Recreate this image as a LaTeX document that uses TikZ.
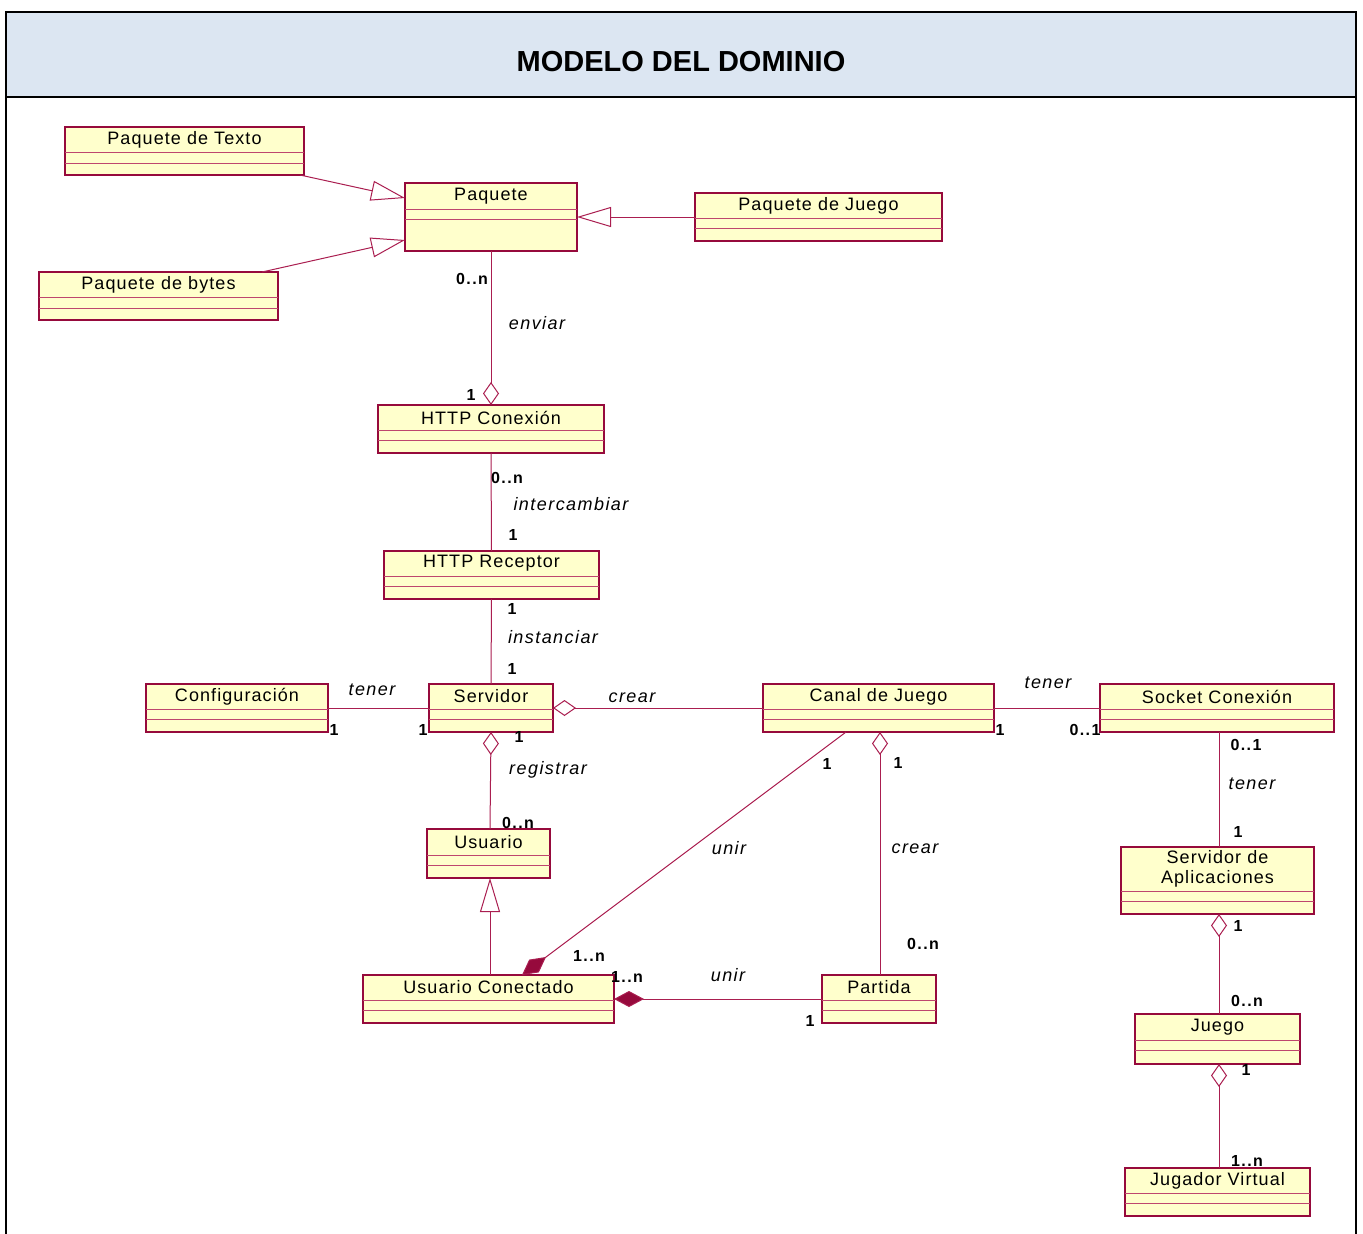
\documentclass[tikz,border=0pt]{standalone}
\usepackage{fontspec}
\setmainfont{Liberation Sans}
\newfontfamily\clsfont[LetterSpace=6]{Liberation Sans}
\newfontfamily\multfont[LetterSpace=9]{Liberation Sans}
\newfontfamily\rolefont[LetterSpace=8]{Liberation Sans}
\usetikzlibrary{arrows.meta}
\definecolor{umlred}{RGB}{150,10,60}
\definecolor{linered}{RGB}{170,30,80}
\definecolor{umlfill}{RGB}{255,255,204}
\definecolor{sepred}{RGB}{190,70,110}
\definecolor{titlebg}{RGB}{220,230,242}
\tikzset{
 clsbox/.style={draw=umlred, fill=umlfill, line width=1.3pt, rectangle, inner sep=0pt, outer sep=0pt},
 sepline/.style={draw=sepred, line width=1pt},
 clsname/.style={font=\clsfont\fontsize{18}{20}\selectfont, align=center, inner sep=0pt},
 assoc/.style={draw=linered, line width=1pt},
 mult/.style={font=\multfont\bfseries\fontsize{16}{18}\selectfont, inner sep=0pt},
 role/.style={font=\rolefont\itshape\fontsize{18}{20}\selectfont, inner sep=0pt},
 aggr/.style={assoc, {Diamond[open, length=23pt, width=16pt, fill=white]}-},
 compo/.style={assoc, {Diamond[length=30pt, width=16pt, fill=umlred]}-},
 gen/.style={assoc, -{Triangle[open, length=34pt, width=20pt, fill=white]}},
}
\newcommand\umlcls[8]{%
 \node[clsbox, minimum width={#4-#2}, minimum height={#5-#3}, anchor=north west] (#1) at (#2,#3) {};
 \draw[sepline] (#2,#6) -- (#4,#6);
 \draw[sepline] (#2,#7) -- (#4,#7);
 \node[clsname] (#1-name) at ({(#2+#4)/2},{(#3+#6)/2}) {#8};
}
\begin{document}
\begin{tikzpicture}[x=1pt,y=-1pt]
\useasboundingbox (0,0) rectangle (1363,1234);
\fill[white] (0,0) rectangle (1363,1234);
% frame
\node[draw=black, line width=2pt, fill=titlebg, minimum width=1350, minimum height=85, anchor=north west, inner sep=0pt, outer sep=0pt] (band) at (6,12) {};
\node[font=\bfseries\fontsize{29}{32}\selectfont] (title) at (681,62) {MODELO DEL DOMINIO};
\draw[line width=2pt] (band.south west) -- (6,1234);
\draw[line width=2pt] (band.south east) -- (1356,1234);
% classes
\umlcls{ptexto}{65}{127}{304}{175}{152}{163}{Paquete de Texto}
\umlcls{pbytes}{39}{272}{278}{320}{297}{308}{Paquete de bytes}
\umlcls{paquete}{405}{183}{577}{251}{209}{219}{Paquete}
\umlcls{pjuego}{695}{193}{942}{241}{218}{228}{Paquete de Juego}
\umlcls{httpcon}{378}{405}{604}{453}{430}{440}{HTTP Conexión}
\umlcls{httprec}{384}{551}{599}{599}{576}{586}{HTTP Receptor}
\umlcls{conf}{146}{684}{328}{732}{709}{719}{Configuración}
\umlcls{servidor}{429}{684}{553}{732}{709}{719}{Servidor}
\umlcls{canal}{763}{684}{994}{732}{709}{719}{Canal de Juego}
\umlcls{socket}{1100}{684}{1334}{732}{709}{719}{Socket Conexión}
\umlcls{usuario}{427}{829}{550}{878}{855}{865}{Usuario}
\umlcls{ucon}{363}{975}{614}{1023}{1000}{1010}{Usuario Conectado}
\umlcls{partida}{822}{975}{936}{1023}{1000}{1010}{Partida}
\umlcls{sda}{1121}{847}{1314}{914}{891}{901}{Servidor de\\Aplicaciones}
\umlcls{juego}{1135}{1014}{1300}{1064}{1040}{1050}{Juego}
\umlcls{jugador}{1125}{1168}{1310}{1216}{1193}{1203}{Jugador Virtual}
% connectors
\draw[gen] (ptexto.south -| 300,0) -- (paquete.west |- 0,198);
\draw[gen] (pbytes.north -| 262,0) -- (paquete.west |- 0,240);
\draw[gen] (pjuego.west) -- (paquete.east);
\draw[aggr] (httpcon.north) -- (paquete.south);
\draw[assoc] (httpcon.south) -- (httprec.north);
\draw[assoc] (httprec.south) -- (servidor.north);
\draw[assoc] (conf.east) -- (servidor.west);
\draw[aggr] (servidor.east) -- (canal.west);
\draw[aggr] (servidor.south -| 491,0) -- (usuario.north -| 490,0);
\draw[assoc] (canal.east) -- (socket.west);
\draw[assoc] (socket.south -| 1219,0) -- (sda.north -| 1219,0);
\draw[compo] (ucon.north -| 522,0) -- (canal.south -| 846,0);
\draw[aggr] (canal.south -| 880,0) -- (partida.north -| 880,0);
\draw[gen] (ucon.north -| 490,0) -- (usuario.south -| 490,0);
\draw[compo] (ucon.east) -- (partida.west);
\draw[aggr] (sda.south -| 1219,0) -- (juego.north -| 1219,0);
\draw[aggr] (juego.south -| 1219,0) -- (jugador.north -| 1219,0);
% multiplicities
\node[mult] (m1) at (472,279) {0..n};
\node[mult] (m2) at (471,395) {1};
\node[mult] (m3) at (507,478) {0..n};
\node[mult] (m4) at (513,535) {1};
\node[mult] (m5) at (512,609) {1};
\node[mult] (m6) at (512,669) {1};
\node[mult] (m7) at (334,730) {1};
\node[mult] (m8) at (423,730) {1};
\node[mult] (m9) at (519,737) {1};
\node[mult] (m10) at (518,823) {0..n};
\node[mult] (m11) at (1000,730) {1};
\node[mult] (m12) at (1085,730) {0..1};
\node[mult] (m13) at (1246,745) {0..1};
\node[mult] (m14) at (1238,832) {1};
\node[mult] (m15) at (827,764) {1};
\node[mult] (m16) at (898,763) {1};
\node[mult] (m17) at (923,944) {0..n};
\node[mult] (m18) at (589,956) {1..n};
\node[mult] (m19) at (627,977) {1..n};
\node[mult] (m20) at (810,1021) {1};
\node[mult] (m21) at (1238,926) {1};
\node[mult] (m22) at (1247,1001) {0..n};
\node[mult] (m23) at (1246,1070) {1};
\node[mult] (m24) at (1247,1161) {1..n};
% roles
\node[role] (r1) at (537,323) {enviar};
\node[role] (r2) at (571,504) {intercambiar};
\node[role] (r3) at (553,637) {instanciar};
\node[role] (r4) at (372,690) {tener};
\node[role] (r5) at (632,698) {crear};
\node[role] (r6) at (548,770) {registrar};
\node[role] (r7) at (1048,683) {tener};
\node[role] (r8) at (1252,784) {tener};
\node[role] (r9) at (729,848) {unir};
\node[role] (r10) at (915,849) {crear};
\node[role] (r11) at (728,975) {unir};
\end{tikzpicture}
\end{document}
